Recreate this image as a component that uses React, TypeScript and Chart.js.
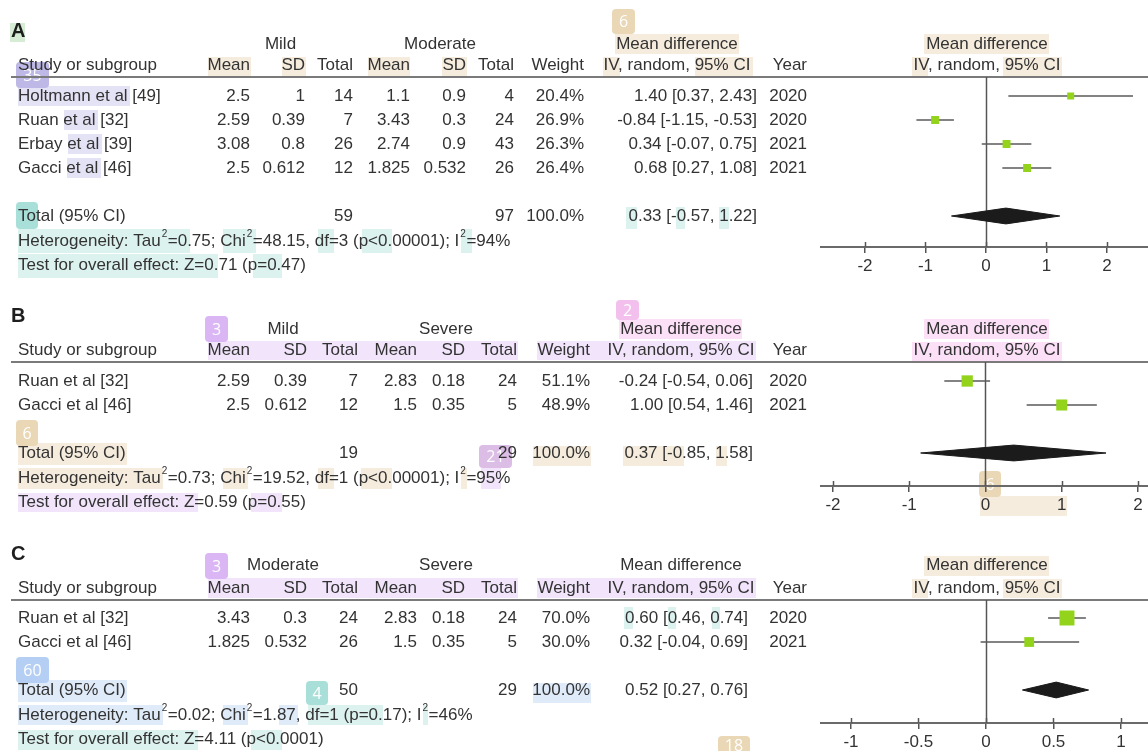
import React, { useEffect, useRef } from "react";
import { Chart, registerables } from "chart.js";

Chart.register(...registerables);

const FF = '"Liberation Sans", Arial, Helvetica, sans-serif';
const TXT = "#333333";

// ---------------- Panel A : Mild vs Moderate ----------------
const A_GROUPS = ["Mild", "Moderate"];
const A_STUDIES = ["Holtmann et al [49]", "Ruan et al [32]", "Erbay et al [39]", "Gacci et al [46]"];
const A_MEAN1 = [2.5, 2.59, 3.08, 2.5];
const A_SD1 = [1, 0.39, 0.8, 0.612];
const A_N1 = [14, 7, 26, 12];
const A_MEAN2 = [1.1, 3.43, 2.74, 1.825];
const A_SD2 = [0.9, 0.3, 0.9, 0.532];
const A_N2 = [4, 24, 43, 26];
const A_WEIGHT = [20.4, 26.9, 26.3, 26.4];
const A_MD = [1.4, -0.84, 0.34, 0.68];
const A_LO = [0.37, -1.15, -0.07, 0.27];
const A_HI = [2.43, -0.53, 0.75, 1.08];
const A_YEAR = [2020, 2020, 2021, 2021];
const A_TOTAL_N = [59, 97];
const A_TOTAL_MD = [0.33, -0.57, 1.22];
const A_HET = { tau2: "0.75", chi2: "48.15", df: 3, p: "<0.00001", i2: 94 };
const A_TEST = { z: "0.71", p: "=0.47" };
const A_TICKS = [-2, -1, 0, 1, 2];

// ---------------- Panel B : Mild vs Severe ----------------
const B_GROUPS = ["Mild", "Severe"];
const B_STUDIES = ["Ruan et al [32]", "Gacci et al [46]"];
const B_MEAN1 = [2.59, 2.5];
const B_SD1 = [0.39, 0.612];
const B_N1 = [7, 12];
const B_MEAN2 = [2.83, 1.5];
const B_SD2 = [0.18, 0.35];
const B_N2 = [24, 5];
const B_WEIGHT = [51.1, 48.9];
const B_MD = [-0.24, 1.0];
const B_LO = [-0.54, 0.54];
const B_HI = [0.06, 1.46];
const B_YEAR = [2020, 2021];
const B_TOTAL_N = [19, 29];
const B_TOTAL_MD = [0.37, -0.85, 1.58];
const B_HET = { tau2: "0.73", chi2: "19.52", df: 1, p: "<0.00001", i2: 95 };
const B_TEST = { z: "0.59", p: "=0.55" };
const B_TICKS = [-2, -1, 0, 1, 2];

// ---------------- Panel C : Moderate vs Severe ----------------
const C_GROUPS = ["Moderate", "Severe"];
const C_STUDIES = ["Ruan et al [32]", "Gacci et al [46]"];
const C_MEAN1 = [3.43, 1.825];
const C_SD1 = [0.3, 0.532];
const C_N1 = [24, 26];
const C_MEAN2 = [2.83, 1.5];
const C_SD2 = [0.18, 0.35];
const C_N2 = [24, 5];
const C_WEIGHT = [70.0, 30.0];
const C_MD = [0.6, 0.32];
const C_LO = [0.46, -0.04];
const C_HI = [0.74, 0.69];
const C_YEAR = [2020, 2021];
const C_TOTAL_N = [50, 29];
const C_TOTAL_MD = [0.52, 0.27, 0.76];
const C_HET = { tau2: "0.02", chi2: "1.87", df: 1, p: "=0.17", i2: 46 };
const C_TEST = { z: "4.11", p: "<0.0001" };
const C_TICKS = [-1, -0.5, 0, 0.5, 1];

// ---------------- layout / style (not data) ----------------
const PAGE_W = 1148;
const PAGE_H = 751;
const CANVAS_W = 1148;
const CANVAS_H = 800;
const AXIS_H = 33;
const ROW_H = 24;
const PLOT_LEFT = 821;
const PLOT_HDR_X = 987;

const BEIGE = "#f5ecdd";
const BEIGE_B = "#e9d7b6";
const LAV = "#e4e2f5";
const LAV_B = "#bdb8e6";
const TEAL = "#dcf2ef";
const TEAL_B = "#a9dfd9";
const PURP = "#f1e4fb";
const PURP_B = "#dbb6f5";
const PINK = "#fbe0f7";
const PINK_B = "#f3c0ee";
const MAUVE_B = "#dcbde6";
const BLUE = "#e0ebf9";
const BLUE_B = "#b5cff4";
const GREEN = "#d6ecd4";

type Rect = [number, number, number, number, string];
type Badge = [number, number, number, number, string, string];

const A_MARKS: Rect[] = [
  [10, 23, 15, 19, GREEN],
  [208, 57, 43, 19, BEIGE], [282, 57, 24, 19, BEIGE], [368, 57, 42, 19, BEIGE], [442, 57, 25, 19, BEIGE],
  [603, 57, 17, 19, BEIGE], [695, 57, 58, 19, BEIGE], [615, 34, 124, 20, BEIGE],
  [924, 34, 125, 20, BEIGE], [912, 57, 16, 19, BEIGE], [1003, 57, 59, 19, BEIGE],
  [18, 86, 112, 20, LAV], [64, 110, 34, 20, LAV], [68, 134, 34, 20, LAV], [67, 158, 34, 20, LAV],
  [18, 229, 172, 24, TEAL], [223, 229, 33, 24, TEAL], [318, 229, 16, 24, TEAL], [362, 229, 30, 24, TEAL], [461, 229, 11, 24, TEAL],
  [18, 254, 200, 24, TEAL], [253, 254, 29, 24, TEAL],
  [626, 207, 11, 22, TEAL], [676, 207, 9, 22, TEAL], [719, 207, 10, 22, TEAL],
];
const A_BADGES: Badge[] = [
  [612, 9, 23, 25, BEIGE_B, "6"],
  [16, 62, 33, 26, LAV_B, "35"],
  [16, 202, 22, 27, TEAL_B, ""],
];
const B_MARKS: Rect[] = [
  [208, 341, 310, 19, PURP], [537, 341, 219, 19, PURP],
  [619, 319, 123, 20, PINK], [924, 319, 125, 20, PINK], [912, 342, 150, 19, PINK],
  [18, 443, 109, 22, BEIGE], [18, 468, 145, 21, BEIGE], [223, 468, 25, 21, BEIGE], [318, 468, 16, 21, BEIGE],
  [361, 468, 31, 21, BEIGE], [461, 468, 6, 21, BEIGE], [481, 468, 20, 21, PURP],
  [533, 446, 58, 20, BEIGE], [623, 446, 61, 20, BEIGE], [716, 446, 11, 20, BEIGE],
  [18, 493, 180, 19, PURP], [251, 493, 31, 19, PURP],
  [980, 496, 87, 20, BEIGE],
];
const B_BADGES: Badge[] = [
  [205, 316, 23, 26, PURP_B, "3"],
  [616, 300, 23, 20, PINK_B, "2"],
  [16, 420, 22, 26, BEIGE_B, "6"],
  [479, 445, 33, 23, MAUVE_B, "21"],
  [979, 471, 22, 26, BEIGE_B, "6"],
];
const C_MARKS: Rect[] = [
  [208, 578, 310, 20, PURP], [537, 578, 219, 20, PURP],
  [924, 556, 125, 20, BEIGE], [912, 579, 16, 19, BEIGE], [1003, 579, 59, 19, BEIGE],
  [624, 607, 9, 22, TEAL], [668, 607, 8, 22, TEAL], [712, 607, 8, 22, TEAL],
  [18, 680, 109, 22, BLUE], [18, 705, 145, 20, BLUE], [223, 705, 25, 20, BLUE], [279, 705, 19, 20, BLUE],
  [533, 683, 58, 20, BLUE],
  [308, 705, 75, 20, TEAL], [423, 705, 5, 20, TEAL],
  [18, 730, 180, 20, TEAL], [251, 730, 31, 20, TEAL],
];
const C_BADGES: Badge[] = [
  [205, 553, 23, 26, PURP_B, "3"],
  [16, 657, 33, 26, BLUE_B, "60"],
  [306, 681, 22, 24, TEAL_B, "4"],
  [718, 736, 32, 18, BEIGE_B, "18"],
];

type Layout = {
  line: number; axis: number; row0: number; totalIdx: number; xMin: number; xMax: number;
  cols: number[]; grp: number[]; mdCenter: number; hdr1: number; sq: number;
  marks: Rect[]; badges: Badge[];
};

type Panel = {
  letter: string; groups: string[]; studies: string[];
  mean1: number[]; sd1: number[]; n1: number[]; mean2: number[]; sd2: number[]; n2: number[];
  weight: number[]; md: number[]; lo: number[]; hi: number[]; year: number[];
  totalN: number[]; totalMd: number[];
  het: { tau2: string; chi2: string; df: number; p: string; i2: number };
  test: { z: string; p: string };
  ticks: number[]; L: Layout;
};

const PANELS: Panel[] = [
  {
    letter: "A", groups: A_GROUPS, studies: A_STUDIES, mean1: A_MEAN1, sd1: A_SD1, n1: A_N1,
    mean2: A_MEAN2, sd2: A_SD2, n2: A_N2, weight: A_WEIGHT, md: A_MD, lo: A_LO, hi: A_HI, year: A_YEAR,
    totalN: A_TOTAL_N, totalMd: A_TOTAL_MD, het: A_HET, test: A_TEST, ticks: A_TICKS,
    L: {
      line: 77, axis: 247, row0: 96, totalIdx: 5, xMin: -2.727, xMax: 2.678,
      cols: [250, 305, 353, 410, 466, 514, 584, 757, 807], grp: [280.5, 440], mdCenter: 677, hdr1: -33, sq: 1.55,
      marks: A_MARKS, badges: A_BADGES,
    },
  },
  {
    letter: "B", groups: B_GROUPS, studies: B_STUDIES, mean1: B_MEAN1, sd1: B_SD1, n1: B_N1,
    mean2: B_MEAN2, sd2: B_SD2, n2: B_N2, weight: B_WEIGHT, md: B_MD, lo: B_LO, hi: B_HI, year: B_YEAR,
    totalN: B_TOTAL_N, totalMd: B_TOTAL_MD, het: B_HET, test: B_TEST, ticks: B_TICKS,
    L: {
      line: 362, axis: 486, row0: 381, totalIdx: 3, xMin: -2.157, xMax: 2.131,
      cols: [250, 307, 358, 417, 465, 517, 590, 753, 807], grp: [283, 446], mdCenter: 681, hdr1: -33, sq: 1.58,
      marks: B_MARKS, badges: B_BADGES,
    },
  },
  {
    letter: "C", groups: C_GROUPS, studies: C_STUDIES, mean1: C_MEAN1, sd1: C_SD1, n1: C_N1,
    mean2: C_MEAN2, sd2: C_SD2, n2: C_N2, weight: C_WEIGHT, md: C_MD, lo: C_LO, hi: C_HI, year: C_YEAR,
    totalN: C_TOTAL_N, totalMd: C_TOTAL_MD, het: C_HET, test: C_TEST, ticks: C_TICKS,
    L: {
      line: 600, axis: 723, row0: 618, totalIdx: 3, xMin: -1.222, xMax: 1.2,
      cols: [250, 307, 358, 417, 465, 517, 590, 748, 807], grp: [283, 446], mdCenter: 681, hdr1: -35, sq: 1.79,
      marks: C_MARKS, badges: C_BADGES,
    },
  },
];

const ciText = (m: number, lo: number, hi: number) => `${m.toFixed(2)} [${lo.toFixed(2)}, ${hi.toFixed(2)}]`;

function roundRect(ctx: CanvasRenderingContext2D, x: number, y: number, w: number, h: number, r: number) {
  ctx.beginPath();
  ctx.moveTo(x + r, y);
  ctx.lineTo(x + w - r, y);
  ctx.quadraticCurveTo(x + w, y, x + w, y + r);
  ctx.lineTo(x + w, y + h - r);
  ctx.quadraticCurveTo(x + w, y + h, x + w - r, y + h);
  ctx.lineTo(x + r, y + h);
  ctx.quadraticCurveTo(x, y + h, x, y + h - r);
  ctx.lineTo(x, y + r);
  ctx.quadraticCurveTo(x, y, x + r, y);
  ctx.closePath();
}

type Part = string | { sup: string };
function drawRich(ctx: CanvasRenderingContext2D, parts: Part[], x: number, y: number) {
  let cx = x;
  ctx.textAlign = "left";
  for (const p of parts) {
    if (typeof p === "string") {
      ctx.font = `17px ${FF}`;
      ctx.fillText(p, cx, y);
      cx += ctx.measureText(p).width;
    } else {
      ctx.font = `10px ${FF}`;
      ctx.fillText(p.sup, cx + 1, y - 7);
      cx += ctx.measureText(p.sup).width + 1.5;
    }
  }
}

function makePlugin(P: Panel) {
  const L = P.L;
  return {
    id: "forestTable" + P.letter,
    beforeDraw(chart: any) {
      const ctx: CanvasRenderingContext2D = chart.ctx;
      ctx.save();
      for (const [x, y, w, h, c] of L.marks) {
        ctx.fillStyle = c;
        ctx.fillRect(x, y, w, h);
      }
      for (const [x, y, w, h, c, t] of L.badges) {
        ctx.fillStyle = c;
        roundRect(ctx, x, y, w, h, 4);
        ctx.fill();
        if (t) {
          ctx.fillStyle = "#ffffff";
          ctx.font = `16px "Open Sans", ${FF}`;
          ctx.textAlign = "center";
          ctx.textBaseline = "middle";
          ctx.fillText(t, x + w / 2, y + h / 2 + 1);
        }
      }
      ctx.restore();
    },
    beforeDatasetsDraw(chart: any) {
      const ctx: CanvasRenderingContext2D = chart.ctx;
      const { top, bottom } = chart.chartArea;
      const xs = chart.scales.x;
      ctx.save();
      // header rule
      ctx.strokeStyle = "#7a7a7a";
      ctx.lineWidth = 2;
      ctx.beginPath();
      ctx.moveTo(11, top);
      ctx.lineTo(CANVAS_W, top);
      ctx.stroke();
      // line of no effect
      const x0 = Math.round(xs.getPixelForValue(0)) + 0.5;
      ctx.strokeStyle = "#555";
      ctx.lineWidth = 1.5;
      ctx.beginPath();
      ctx.moveTo(x0, top);
      ctx.lineTo(x0, bottom);
      ctx.stroke();
      // upper half of tick marks
      for (const t of xs.ticks) {
        const px = Math.round(xs.getPixelForValue(t.value)) + 0.5;
        ctx.beginPath();
        ctx.moveTo(px, bottom - 5);
        ctx.lineTo(px, bottom);
        ctx.stroke();
      }
      ctx.restore();
    },
    afterDraw(chart: any) {
      const ctx: CanvasRenderingContext2D = chart.ctx;
      const ys = chart.scales.y;
      const c = L.cols;
      const h2 = L.line - 12;
      const h1 = L.line + L.hdr1;
      ctx.save();
      ctx.fillStyle = TXT;
      ctx.textBaseline = "middle";

      // panel letter
      ctx.font = `bold 20px ${FF}`;
      ctx.fillStyle = "#1e1e1e";
      ctx.textAlign = "left";
      ctx.fillText(P.letter, 11, L.line - 46);
      ctx.fillStyle = TXT;

      // header line 1
      ctx.font = `17px ${FF}`;
      ctx.textAlign = "center";
      ctx.fillText(P.groups[0], L.grp[0], h1);
      ctx.fillText(P.groups[1], L.grp[1], h1);
      ctx.fillText("Mean difference", L.mdCenter, h1);
      ctx.fillText("Mean difference", PLOT_HDR_X, h1);

      // header line 2
      ctx.textAlign = "left";
      ctx.fillText("Study or subgroup", 18, h2);
      ctx.textAlign = "right";
      const hdr = ["Mean", "SD", "Total", "Mean", "SD", "Total", "Weight"];
      hdr.forEach((t, i) => ctx.fillText(t, c[i], h2));
      ctx.fillText("Year", c[8], h2);
      ctx.textAlign = "center";
      ctx.fillText("IV, random, 95% CI", L.mdCenter, h2);
      ctx.fillText("IV, random, 95% CI", PLOT_HDR_X, h2);

      // study rows
      P.studies.forEach((s, i) => {
        const y = ys.getPixelForValue(i);
        ctx.textAlign = "left";
        ctx.fillText(s, 18, y);
        ctx.textAlign = "right";
        const vals = [
          String(P.mean1[i]), String(P.sd1[i]), String(P.n1[i]),
          String(P.mean2[i]), String(P.sd2[i]), String(P.n2[i]),
          P.weight[i].toFixed(1) + "%",
          ciText(P.md[i], P.lo[i], P.hi[i]),
          String(P.year[i]),
        ];
        vals.forEach((v, k) => ctx.fillText(v, c[k], y));
      });

      // total row
      const ty = ys.getPixelForValue(L.totalIdx);
      ctx.textAlign = "left";
      ctx.fillText("Total (95% CI)", 18, ty);
      ctx.textAlign = "right";
      ctx.fillText(String(P.totalN[0]), c[2], ty);
      ctx.fillText(String(P.totalN[1]), c[5], ty);
      const wsum = P.weight.reduce((a, b) => a + b, 0);
      ctx.fillText(wsum.toFixed(1) + "%", c[6], ty);
      ctx.fillText(ciText(P.totalMd[0], P.totalMd[1], P.totalMd[2]), c[7], ty);

      // heterogeneity & overall effect
      const H = P.het;
      drawRich(ctx, [
        "Heterogeneity: Tau", { sup: "2" }, `=${H.tau2}; Chi`, { sup: "2" },
        `=${H.chi2}, df=${H.df} (p${H.p}); I`, { sup: "2" }, `=${H.i2}%`,
      ], 18, ty + 25);
      drawRich(ctx, [`Test for overall effect: Z=${P.test.z} (p${P.test.p})`], 18, ty + 49);
      ctx.restore();
    },
  };
}

function buildConfig(P: Panel): any {
  const L = P.L;
  const yMin = -(L.row0 - L.line) / ROW_H;
  const yMax = yMin + (L.axis - L.line) / ROW_H;
  const T = L.totalIdx;
  const dh = 0.33;
  const [tm, tlo, thi] = P.totalMd;

  const squares = {
    type: "line",
    data: P.md.map((m, i) => ({ x: m, y: i })),
    showLine: false,
    pointStyle: "rect",
    pointRadius: P.weight.map((w) => (L.sq * Math.sqrt(w)) / 1.4142),
    pointHoverRadius: P.weight.map((w) => (L.sq * Math.sqrt(w)) / 1.4142),
    pointBackgroundColor: "#93d31c",
    pointBorderWidth: 0,
    borderWidth: 0,
  };
  const ciLines = P.lo.map((lo, i) => ({
    type: "line",
    data: [{ x: lo, y: i }, { x: P.hi[i], y: i }],
    borderColor: "#5a5a5a",
    borderWidth: 1.5,
    pointRadius: 0,
    fill: false,
  }));
  const diamond = {
    type: "line",
    data: [
      { x: tlo, y: T }, { x: tm, y: T - dh }, { x: thi, y: T }, { x: tm, y: T + dh }, { x: tlo, y: T },
    ],
    borderColor: "#1b1b1b",
    backgroundColor: "#1b1b1b",
    borderWidth: 1,
    pointRadius: 0,
    fill: "shape",
  };

  return {
    type: "line",
    data: { datasets: [squares, ...ciLines, diamond] },
    options: {
      animation: false,
      responsive: false,
      devicePixelRatio: 1,
      events: [],
      layout: {
        autoPadding: false,
        padding: { left: PLOT_LEFT, right: 0, top: L.line, bottom: CANVAS_H - L.axis - AXIS_H },
      },
      plugins: { legend: { display: false }, tooltip: { enabled: false }, title: { display: false } },
      scales: {
        x: {
          type: "linear",
          min: L.xMin,
          max: L.xMax,
          afterBuildTicks: (s: any) => {
            s.ticks = P.ticks.map((v) => ({ value: v }));
          },
          afterFit: (s: any) => {
            s.height = AXIS_H;
          },
          ticks: {
            font: { family: FF, size: 17 },
            color: TXT,
            padding: 3,
            maxRotation: 0,
            autoSkip: false,
            callback: (v: any) => String(v),
          },
          grid: { display: true, drawOnChartArea: false, drawTicks: true, tickLength: 6, color: "#555", lineWidth: 1.5 },
          border: { display: true, color: "#6a6a6a", width: 2 },
        },
        y: { type: "linear", display: false, reverse: true, min: yMin, max: yMax },
      },
    },
    plugins: [makePlugin(P)],
  };
}

function PanelCanvas({ panel }: { panel: Panel }) {
  const ref = useRef<HTMLCanvasElement>(null);
  useEffect(() => {
    if (!ref.current) return;
    const chart = new Chart(ref.current, buildConfig(panel));
    return () => chart.destroy();
  }, [panel]);
  return (
    <canvas
      ref={ref}
      width={CANVAS_W}
      height={CANVAS_H}
      style={{ position: "absolute", left: 0, top: 0, width: CANVAS_W, height: CANVAS_H }}
    />
  );
}

export default function App() {
  return (
    <div
      style={{
        position: "absolute",
        left: 0,
        top: 0,
        width: PAGE_W,
        height: PAGE_H,
        overflow: "hidden",
        background: "#ffffff",
      }}
    >
      {PANELS.map((p) => (
        <PanelCanvas key={p.letter} panel={p} />
      ))}
    </div>
  );
}
